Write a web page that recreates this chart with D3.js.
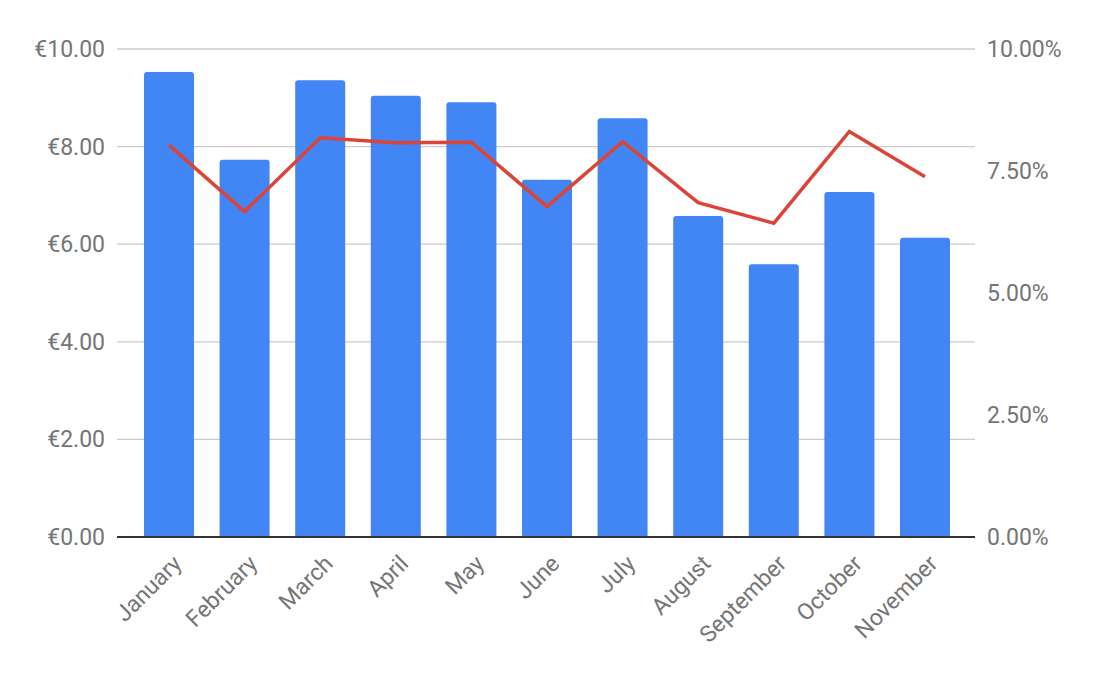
<!DOCTYPE html>
<html>
<head>
<meta charset="utf-8">
<script src="https://cdn.jsdelivr.net/npm/d3@7"></script>
<style>
  html, body { margin: 0; padding: 0; background: #fff; }
  svg { display: block; font-family: Roboto, "Noto Sans", sans-serif; }
</style>
</head>
<body>
<svg id="chart" width="1096" height="676"></svg>
<script>
const months = ["January","February","March","April","May","June","July","August","September","October","November"];
const prices = [9.53, 7.73, 9.36, 9.04, 8.91, 7.32, 8.58, 6.58, 5.59, 7.07, 6.13];
const rates = [8.03, 6.67, 8.18, 8.08, 8.09, 6.77, 8.10, 6.85, 6.43, 8.31, 7.38];
const leftTicks = [0, 2, 4, 6, 8, 10];
const rightTicks = [0, 2.5, 5, 7.5, 10];

const svg = d3.select("#chart");
const x = d3.scaleBand().domain(months).range([131.2, 962.8]).paddingInner(0.3386).paddingOuter(0.1693);
const yL = d3.scaleLinear().domain([0, 10]).range([537, 49]);
const yR = d3.scaleLinear().domain([0, 10]).range([537, 49]);
const gridX1 = 117, gridX2 = 975;
const labelColor = "#757575";
const fs = "23px";

// gridlines
svg.append("g").selectAll("line").data(leftTicks.filter(d => d > 0)).join("line")
  .attr("x1", gridX1).attr("x2", gridX2)
  .attr("y1", d => yL(d)).attr("y2", d => yL(d))
  .attr("stroke", "#cccccc").attr("stroke-width", 1.3);

// bars with rounded top corners
const r = 3;
svg.append("g").selectAll("path").data(prices).join("path")
  .attr("fill", "#4285f4")
  .attr("d", (d, i) => {
    const x0 = x(months[i]), w = x.bandwidth(), y0 = yL(d), yb = yL(0);
    return `M${x0},${yb} L${x0},${y0 + r} Q${x0},${y0} ${x0 + r},${y0} L${x0 + w - r},${y0} Q${x0 + w},${y0} ${x0 + w},${y0 + r} L${x0 + w},${yb} Z`;
  });

// baseline
svg.append("line").attr("x1", gridX1).attr("x2", gridX2)
  .attr("y1", yL(0)).attr("y2", yL(0))
  .attr("stroke", "#333333").attr("stroke-width", 2);

// line series
const line = d3.line().x((d, i) => x(months[i]) + x.bandwidth() / 2).y(d => yR(d));
svg.append("path").datum(rates).attr("d", line)
  .attr("fill", "none").attr("stroke", "#db4437").attr("stroke-width", 3.5)
  .attr("stroke-linejoin", "miter");

// left axis labels
const fmtEuro = d => "€" + d3.format(".2f")(d);
svg.append("g").selectAll("text").data(leftTicks).join("text")
  .attr("x", 105).attr("y", d => yL(d)).attr("dy", "0.35em")
  .attr("text-anchor", "end").attr("fill", labelColor).style("font-size", fs)
  .text(fmtEuro);

// right axis labels
const fmtPct = d => d3.format(".2f")(d) + "%";
svg.append("g").selectAll("text").data(rightTicks).join("text")
  .attr("x", 987).attr("y", d => yR(d)).attr("dy", "0.35em")
  .attr("text-anchor", "start").attr("fill", labelColor).style("font-size", fs)
  .text(fmtPct);

// x labels
svg.append("g").selectAll("text").data(months).join("text")
  .attr("transform", d => `translate(${x(d) + x.bandwidth() / 2 + 14},${565}) rotate(-45)`)
  .attr("text-anchor", "end").attr("fill", labelColor).style("font-size", fs)
  .text(d => d);
</script>
</body>
</html>
